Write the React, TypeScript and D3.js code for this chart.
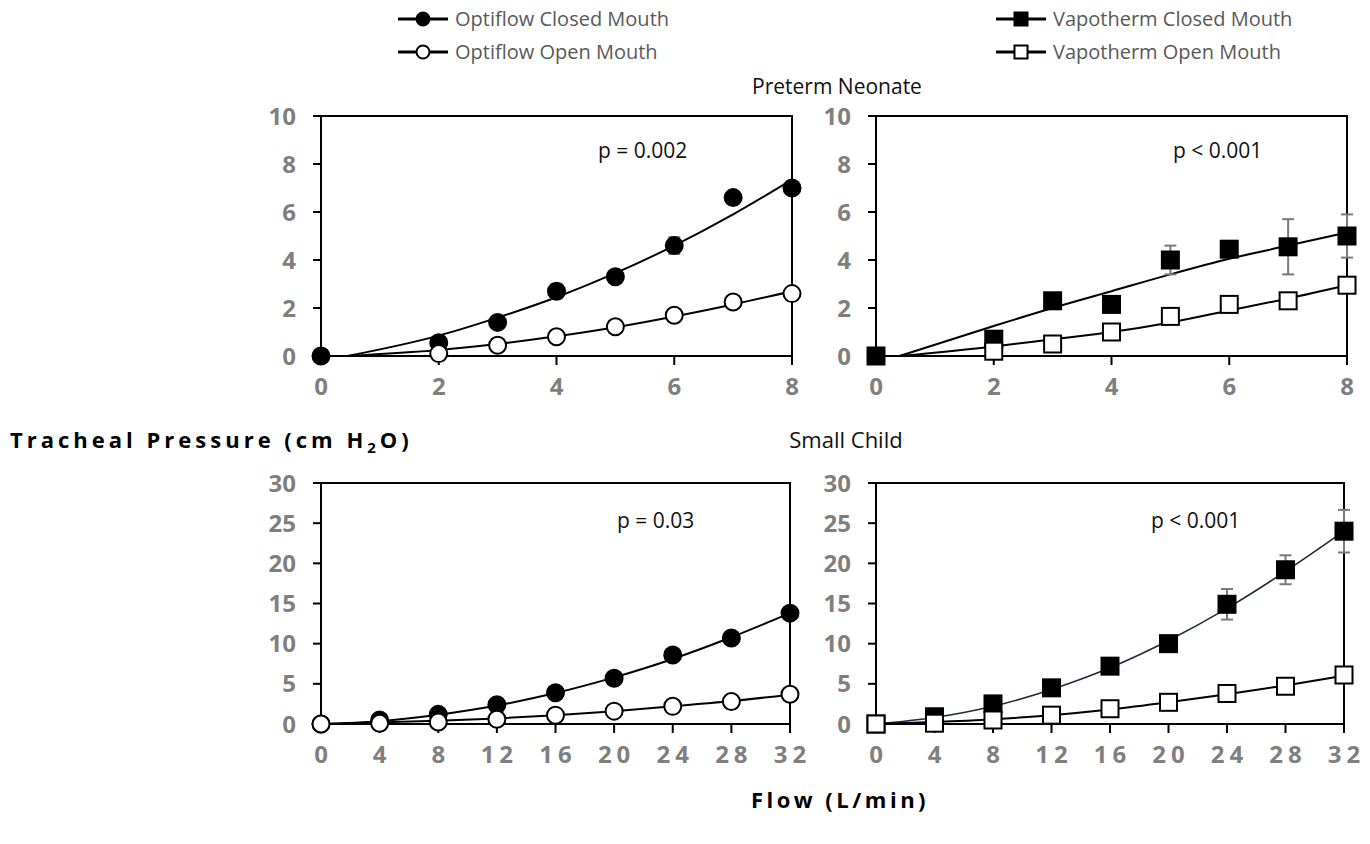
import * as d3 from 'd3';

// Preterm neonate (flow 0-8 L/min)
const neonateFlow = [0, 2, 3, 4, 5, 6, 7, 8];
const neonateOpenFlow = [2, 3, 4, 5, 6, 7, 8];
const neoOptiClosed = [0, 0.55, 1.4, 2.7, 3.3, 4.6, 6.6, 7.0];
const neoOptiClosedErr = [0, 0.1, 0.15, 0.3, 0.1, 0.35, 0.1, 0.1];
const neoOptiOpen = [0.1, 0.45, 0.8, 1.22, 1.7, 2.25, 2.6];
const neoVapoClosed = [0, 0.7, 2.3, 2.15, 4.0, 4.45, 4.55, 5.0];
const neoVapoClosedErr = [0, 0.1, 0.1, 0.1, 0.6, 0.1, 1.15, 0.9];
const neoVapoOpen = [0.2, 0.5, 1.0, 1.65, 2.15, 2.3, 2.95];
const neoVapoOpenErr = [0, 0, 0.05, 0.05, 0.1, 0.2, 0.1];

// fitted trend lines
const neoFitFlow = [0.45, 2, 3, 4, 5, 6, 7, 8];
const neoOptiClosedFit = [0, 0.85, 1.6, 2.45, 3.45, 4.6, 5.9, 7.35];
const neoOptiOpenFit = [0, 0.25, 0.5, 0.82, 1.2, 1.65, 2.15, 2.7];
const neoVapoFitFlow = [0.4, 2, 3, 4, 5, 6, 7, 8];
const neoVapoClosedFit = [0, 1.25, 2.0, 2.7, 3.4, 4.05, 4.6, 5.15];
const neoVapoOpenFit = [0, 0.4, 0.7, 1.0, 1.4, 1.9, 2.4, 2.95];

// Small child (flow 0-32 L/min)
const childFlow = [0, 4, 8, 12, 16, 20, 24, 28, 32];
const childOptiClosed = [0, 0.5, 1.2, 2.4, 3.9, 5.7, 8.6, 10.7, 13.8];
const childOptiClosedErr = [0, 0, 0.1, 0.2, 0.2, 0.3, 0.3, 0.4, 0.3];
const childOptiOpen = [0, 0.1, 0.25, 0.6, 1.1, 1.6, 2.2, 2.8, 3.7];
const childVapoClosed = [0, 0.9, 2.5, 4.5, 7.2, 10.0, 14.9, 19.2, 24.0];
const childVapoClosedErr = [0, 0.2, 0.4, 0.5, 0.6, 0.6, 1.9, 1.8, 2.65];
const childVapoOpen = [0, 0.1, 0.5, 1.1, 1.9, 2.7, 3.8, 4.7, 6.1];
const childOptiClosedFit = [0, 0.35, 1.15, 2.3, 3.85, 5.8, 8.1, 10.8, 13.8];
const childOptiOpenFit = [0, 0.2, 0.4, 0.7, 1.1, 1.6, 2.2, 2.85, 3.65];
const childVapoClosedFit = [0, 0.8, 2.2, 4.3, 7.0, 10.4, 14.4, 19.0, 24.0];
const childVapoOpenFit = [0, 0.25, 0.6, 1.1, 1.8, 2.7, 3.7, 4.8, 6.0];

const neoXTicks = [0, 2, 4, 6, 8];
const neoYTicks = [0, 2, 4, 6, 8, 10];
const childXTicks = [0, 4, 8, 12, 16, 20, 24, 28, 32];
const childYTicks = [0, 5, 10, 15, 20, 25, 30];

const legendLabels = ['Optiflow Closed Mouth', 'Optiflow Open Mouth', 'Vapotherm Closed Mouth', 'Vapotherm Open Mouth'];
const pLabels = ['p = 0.002', 'p < 0.001', 'p = 0.03', 'p < 0.001'];

const FONT = "'Open Sans', 'Liberation Sans', sans-serif";
const GRAY = '#7f7f7f';

type Series = {
  xs: number[];
  ys: number[];
  err?: number[];
  filled: boolean;
};

type Fit = { xs: number[]; ys: number[]; color: string; width: number };

type PanelProps = {
  x0: number; x1: number; yTop: number; yBot: number;
  xMax: number; yMax: number;
  xTicks: number[]; yTicks: number[];
  shape: 'circle' | 'square';
  series: Series[];
  fits: Fit[];
  pLabel: string; pX: number; pY: number;
  xSpacing: number;
};

function Marker({ cx, cy, shape, filled, size }: { cx: number; cy: number; shape: string; filled: boolean; size: number }) {
  const fill = filled ? '#000' : '#fff';
  if (shape === 'circle') {
    return <circle cx={cx} cy={cy} r={size} fill={fill} stroke="#000" strokeWidth={2} />;
  }
  return <rect x={cx - size} y={cy - size} width={size * 2} height={size * 2} fill={fill} stroke="#000" strokeWidth={2} />;
}

function Panel(p: PanelProps) {
  const x = d3.scaleLinear().domain([0, p.xMax]).range([p.x0, p.x1]);
  const y = d3.scaleLinear().domain([0, p.yMax]).range([p.yBot, p.yTop]);
  const line = d3.line<[number, number]>()
    .x(d => x(d[0]))
    .y(d => y(d[1]))
    .curve(d3.curveMonotoneX);
  const msize = 8.5;

  return (
    <g>
      {/* fit lines */}
      {p.fits.map((f, i) => (
        <path key={'f' + i} d={line(f.xs.map((v, j) => [v, f.ys[j]] as [number, number])) || ''}
          fill="none" stroke={f.color} strokeWidth={f.width} />
      ))}
      {/* frame */}
      <rect x={p.x0} y={p.yTop} width={p.x1 - p.x0} height={p.yBot - p.yTop} fill="none" stroke="#000" strokeWidth={2} />
      {p.yTicks.map(t => (
        <g key={'y' + t}>
          <line x1={p.x0 - 8} x2={p.x0} y1={y(t)} y2={y(t)} stroke="#000" strokeWidth={2} />
          <text x={p.x0 - 25} y={y(t)} dy="0.36em" textAnchor="end" fill={GRAY}
            fontFamily={FONT} fontWeight="bold" fontSize={24}>{t}</text>
        </g>
      ))}
      {p.xTicks.map(t => (
        <g key={'x' + t}>
          <line x1={x(t)} x2={x(t)} y1={p.yBot} y2={p.yBot + 9} stroke="#000" strokeWidth={2} />
          <text x={x(t) + p.xSpacing / 2} y={p.yBot + 22} dy="0.72em" textAnchor="middle" fill={GRAY}
            fontFamily={FONT} fontWeight="bold" fontSize={24} letterSpacing={p.xSpacing}>{t}</text>
        </g>
      ))}
      {/* error bars */}
      {p.series.map((s, si) => s.err ? s.xs.map((v, j) => {
        const e = s.err![j];
        if (!e) return null;
        const cx = x(v);
        return (
          <g key={'e' + si + '-' + j} stroke="#7a7a7a" strokeWidth={2}>
            <line x1={cx} x2={cx} y1={y(s.ys[j] - e)} y2={y(s.ys[j] + e)} />
            <line x1={cx - 6} x2={cx + 6} y1={y(s.ys[j] - e)} y2={y(s.ys[j] - e)} />
            <line x1={cx - 6} x2={cx + 6} y1={y(s.ys[j] + e)} y2={y(s.ys[j] + e)} />
          </g>
        );
      }) : null)}
      {/* markers */}
      {p.series.map((s, si) => s.xs.map((v, j) => (
        <Marker key={'m' + si + '-' + j} cx={x(v)} cy={y(s.ys[j])} shape={p.shape} filled={s.filled} size={msize} />
      )))}
      <text x={p.x0 + p.pX} y={p.pY} fill="#111" fontFamily={FONT} fontSize={21}>{p.pLabel}</text>
    </g>
  );
}

function LegendItem({ x, y, shape, filled, label }: { x: number; y: number; shape: string; filled: boolean; label: string }) {
  return (
    <g>
      <line x1={x} x2={x + 50} y1={y} y2={y} stroke="#000" strokeWidth={3} />
      <Marker cx={x + 25} cy={y} shape={shape} filled={filled} size={6.5} />
      <text x={x + 57} y={y} dy="0.35em" fill="#595959" fontFamily={FONT} fontSize={20}>{label}</text>
    </g>
  );
}

export default function App() {
  return (
    <svg width={1370} height={844} style={{ position: 'absolute', left: 0, top: 0, background: '#fff' }}>
      <LegendItem x={398} y={19} shape="circle" filled={true} label={legendLabels[0]} />
      <LegendItem x={398} y={52} shape="circle" filled={false} label={legendLabels[1]} />
      <LegendItem x={996} y={19} shape="square" filled={true} label={legendLabels[2]} />
      <LegendItem x={996} y={52} shape="square" filled={false} label={legendLabels[3]} />

      <text x={837} y={87} dy="0.35em" textAnchor="middle" fontFamily={FONT} fontSize={21} fill="#111">Preterm Neonate</text>
      <text x={846} y={440} dy="0.35em" textAnchor="middle" fontFamily={FONT} fontSize={22} fill="#111">Small Child</text>

      <text x={10} y={440} dy="0.35em" fontFamily={FONT} fontWeight="bold" fontSize={22} letterSpacing={4} fill="#000">
        Tracheal Pressure (cm H<tspan fontSize={15} dy="5">2</tspan><tspan dy="-5">O)</tspan>
      </text>
      <text x={840} y={800} dy="0.35em" textAnchor="middle" fontFamily={FONT} fontWeight="bold" fontSize={22} letterSpacing={3.5} fill="#000">Flow (L/min)</text>

      <Panel x0={321} x1={792} yTop={116} yBot={356} xMax={8} yMax={10}
        xTicks={neoXTicks} yTicks={neoYTicks} shape="circle" xSpacing={0}
        fits={[
          { xs: neoFitFlow, ys: neoOptiClosedFit, color: '#000', width: 2 },
          { xs: neoFitFlow, ys: neoOptiOpenFit, color: '#000', width: 2 },
        ]}
        series={[
          { xs: neonateFlow, ys: neoOptiClosed, err: neoOptiClosedErr, filled: true },
          { xs: neonateOpenFlow, ys: neoOptiOpen, filled: false },
        ]}
        pLabel={pLabels[0]} pX={277} pY={158} />

      <Panel x0={876} x1={1347} yTop={116} yBot={356} xMax={8} yMax={10}
        xTicks={neoXTicks} yTicks={neoYTicks} shape="square" xSpacing={0}
        fits={[
          { xs: neoVapoFitFlow, ys: neoVapoClosedFit, color: '#000', width: 2 },
          { xs: neoVapoFitFlow, ys: neoVapoOpenFit, color: '#000', width: 2 },
        ]}
        series={[
          { xs: neonateFlow, ys: neoVapoClosed, err: neoVapoClosedErr, filled: true },
          { xs: neonateOpenFlow, ys: neoVapoOpen, err: neoVapoOpenErr, filled: false },
        ]}
        pLabel={pLabels[1]} pX={297} pY={158} />

      <Panel x0={321} x1={790} yTop={483} yBot={724} xMax={32} yMax={30}
        xTicks={childXTicks} yTicks={childYTicks} shape="circle" xSpacing={5}
        fits={[
          { xs: childFlow, ys: childOptiClosedFit, color: '#000', width: 2 },
          { xs: childFlow, ys: childOptiOpenFit, color: '#000', width: 2 },
        ]}
        series={[
          { xs: childFlow, ys: childOptiClosed, err: childOptiClosedErr, filled: true },
          { xs: childFlow, ys: childOptiOpen, filled: false },
        ]}
        pLabel={pLabels[2]} pX={296} pY={528} />

      <Panel x0={876} x1={1344} yTop={483} yBot={724} xMax={32} yMax={30}
        xTicks={childXTicks} yTicks={childYTicks} shape="square" xSpacing={5}
        fits={[
          { xs: childFlow, ys: childVapoClosedFit, color: '#1c2b3d', width: 1.6 },
          { xs: childFlow, ys: childVapoOpenFit, color: '#000', width: 2 },
        ]}
        series={[
          { xs: childFlow, ys: childVapoClosed, err: childVapoClosedErr, filled: true },
          { xs: childFlow, ys: childVapoOpen, filled: false },
        ]}
        pLabel={pLabels[3]} pX={275} pY={528} />
    </svg>
  );
}
